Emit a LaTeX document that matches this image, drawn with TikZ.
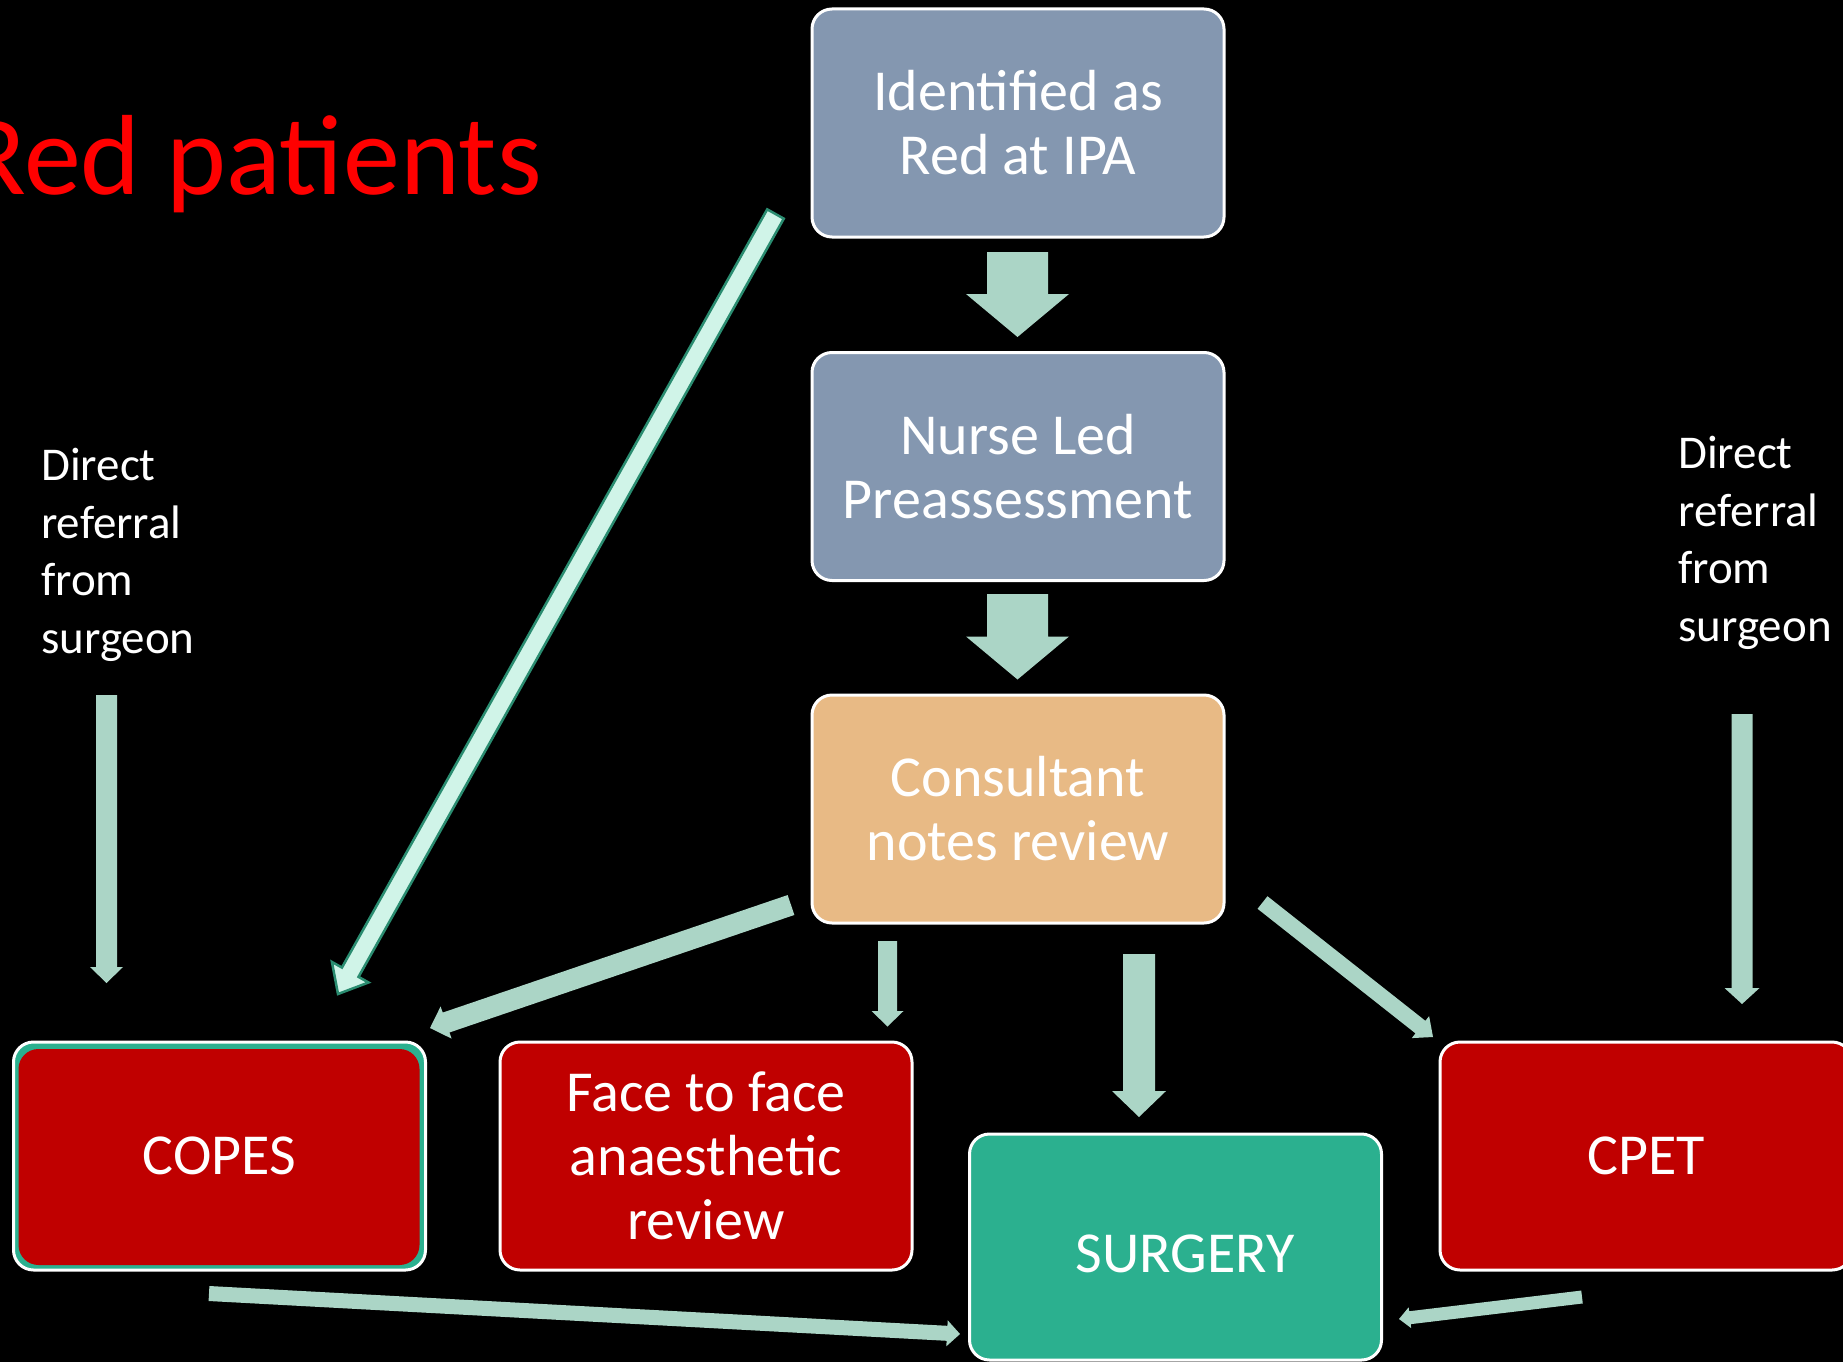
\documentclass[tikz,border=0pt]{standalone}
\usepackage{fontspec}
\setmainfont{Carlito}
\usetikzlibrary{calc}
\definecolor{cblue}{HTML}{8497B0}
\definecolor{ctan}{HTML}{E8BA85}
\definecolor{cred}{HTML}{C00000}
\definecolor{cteal}{HTML}{2BB08F}
\definecolor{carrow}{HTML}{ABD5C6}
\definecolor{cmint}{HTML}{D0F4E8}
\definecolor{cmintline}{HTML}{2A8C70}
\definecolor{ctitle}{HTML}{FF0000}
% #1 style, #2 start coordinate, #3 tip coordinate, #4 shaft half width, #5 head half width, #6 head length
\newcommand\blockarrow[6]{%
  \path ($(#3)!#6!(#2)$) coordinate (bah);
  \path[#1] ($(#2)!#4!90:(#3)$) -- ($(bah)!#4!90:(#3)$) -- ($(bah)!#5!90:(#3)$) -- (#3)
    -- ($(bah)!#5!-90:(#3)$) -- ($(bah)!#4!-90:(#3)$) -- ($(#2)!#4!-90:(#3)$) -- cycle;
}
\begin{document}
\begin{tikzpicture}[x=1pt,y=-1pt,
  box/.style={draw=white, line width=3pt, rounded corners=20pt, minimum width=412pt,
    minimum height=228pt, inner sep=0pt, text=white, align=center,
    font=\fontsize{58}{64}\selectfont},
  boxtext/.style={inner sep=0pt, text=white, align=center, font=\fontsize{58}{64}\selectfont},
  sidetext/.style={anchor=north west, inner sep=0pt, align=left, text=white,
    font=\fontsize{47}{57.6}\selectfont},
  flow/.style={fill=carrow},
  mintarrow/.style={fill=cmint, draw=cmintline, line width=2.5pt, line join=miter}]
\useasboundingbox (0,0) rectangle (1843,1362);
\fill[black] (0,0) rectangle (1843,1362);
\clip (0,0) rectangle (1843,1362);

% title (cut at the left edge, as in the reference)
\node[anchor=base west, inner sep=0pt, text=ctitle, font=\fontsize{114}{124}\selectfont] (title) at (-36,194) {Red patients};

% side texts
\node[sidetext] (leftref) at (41,448) {Direct\\referral\\from\\surgeon};
\node[sidetext] (rightref) at (1678,436) {Direct\\referral\\from\\surgeon};

% boxes
\node[box, fill=cblue] (ipa) at (1018,123) {Identified as\\Red at IPA};
\node[box, fill=cblue] (nurse) at (1018,466.5) {Nurse Led\\Preassessment};
\node[box, fill=ctan] (cons) at (1018,809) {Consultant\\notes review};
\node[box, fill=cteal, path picture={\fill[cred] ($(path picture bounding box.north west)+(5,7)$) rectangle ($(path picture bounding box.south east)+(-6,-5)$);}] (copes) at (219.5,1156) {COPES};
\node[box, fill=cred] (face) at (706,1156) {Face to face\\anaesthetic\\review};
\node[box, fill=cteal, minimum height=226pt] (surgery) at (1175.5,1247) {};
\node[boxtext] (surgerylabel) at (1185,1254) {SURGERY};
\node[box, fill=cred] (cpet) at (1646,1156) {CPET};

% arrow end points
\coordinate (a1s) at (1017.5,252);   \coordinate (a1t) at (1017.5,337);
\coordinate (a2s) at (1017.5,594);   \coordinate (a2t) at (1017.5,679.5);
\coordinate (dgs) at (775.5,214);    \coordinate (dgt) at (338,994);
\coordinate (lvs) at (106.5,695);    \coordinate (lvt) at (106.5,983);
\coordinate (rvs) at (1742,714);     \coordinate (rvt) at (1742,1004);
\coordinate (ccs) at (791,905);      \coordinate (cct) at (430,1028);
\coordinate (cfs) at (887.5,941);    \coordinate (cft) at (887.5,1026.5);
\coordinate (css) at (1139,954);     \coordinate (cst) at (1139,1117);
\coordinate (cps) at (1262.5,902.5); \coordinate (cpt) at (1433,1037);
\coordinate (bls) at (209,1293.5);   \coordinate (blt) at (960,1334);
\coordinate (brs) at (1582,1297);    \coordinate (brt) at (1399,1319);

% arrows
\blockarrow{flow}{a1s}{a1t}{30.5pt}{51.5pt}{43pt}
\blockarrow{flow}{a2s}{a2t}{30.5pt}{51.5pt}{43pt}
\blockarrow{mintarrow}{dgs}{dgt}{9.5pt}{21pt}{25pt}
\blockarrow{flow}{lvs}{lvt}{10.5pt}{16.5pt}{16pt}
\blockarrow{flow}{rvs}{rvt}{10.5pt}{17.5pt}{16pt}
\blockarrow{flow}{ccs}{cct}{10.5pt}{17pt}{17pt}
\blockarrow{flow}{cfs}{cft}{9.5pt}{16pt}{15.5pt}
\blockarrow{flow}{css}{cst}{16pt}{27pt}{26pt}
\blockarrow{flow}{cps}{cpt}{8pt}{14pt}{16pt}
\blockarrow{flow}{bls}{blt}{7.5pt}{13pt}{13pt}
\blockarrow{flow}{brs}{brt}{6.5pt}{10.5pt}{11pt}
\end{tikzpicture}
\end{document}
